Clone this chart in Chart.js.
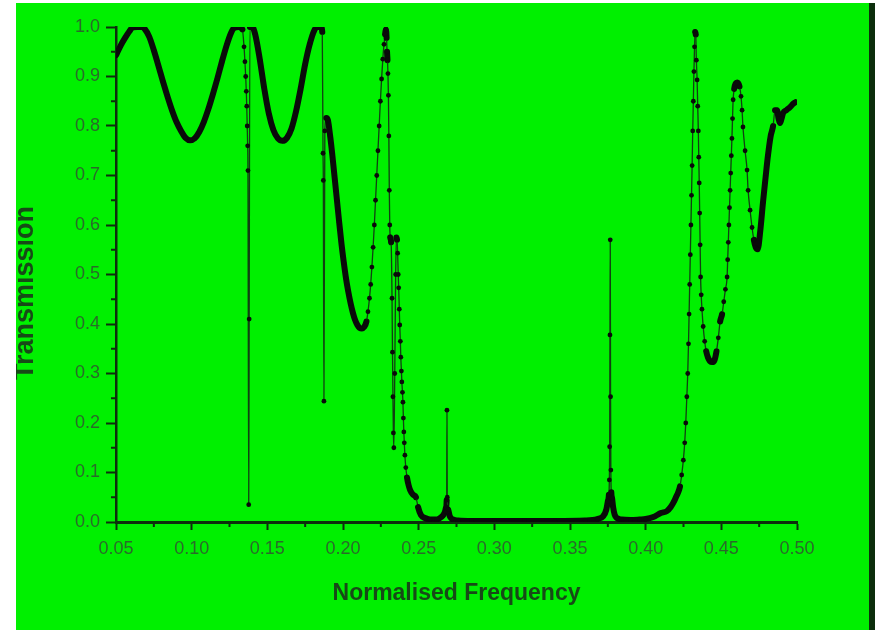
<!DOCTYPE html>
<html>
<head>
<meta charset="utf-8">
<script src="https://cdn.jsdelivr.net/npm/chart.js@4.4.1/dist/chart.umd.min.js"></script>
<style>
  html, body { margin: 0; padding: 0; background: #fff; }
  #wrap { position: absolute; left: 16px; top: 3px; width: 853px; height: 627px; background: #00f000; border-right: 6px solid #0c2e0c; }
  canvas { display: block; }
</style>
</head>
<body>
<div id="wrap"><canvas id="chart" width="853" height="627"></canvas></div>
<script>
const freq = [
  0.050, 0.053, 0.056, 0.059, 0.061, 0.064, 0.067, 0.069, 0.072, 0.075,
  0.078, 0.081, 0.084, 0.087, 0.090, 0.093, 0.096, 0.099, 0.102, 0.105,
  0.108, 0.111, 0.114, 0.117, 0.120, 0.123, 0.126, 0.128, 0.131, 0.1335,
  0.1346, 0.1352, 0.1357, 0.1361, 0.1364, 0.1367, 0.1370, 0.1372, 0.1377, 0.1380,
  0.1385, 0.1400, 0.1420, 0.1450, 0.1480, 0.1510, 0.1540, 0.1570, 0.1600, 0.1630,
  0.1660, 0.1690, 0.1720, 0.1750, 0.1780, 0.1810, 0.1830, 0.1855, 0.1863, 0.1868,
  0.1870, 0.1874, 0.1880, 0.1890, 0.1900, 0.1915, 0.1930, 0.1945, 0.1960, 0.1975,
  0.1990, 0.2005, 0.2020, 0.2035, 0.2050, 0.2065, 0.2080, 0.2095, 0.2110, 0.2125,
  0.2140, 0.2155, 0.2165, 0.2175, 0.2183, 0.2191, 0.2199, 0.2207, 0.2215, 0.2223,
  0.2231, 0.2239, 0.2247, 0.2255, 0.2263, 0.2271, 0.2278, 0.2284, 0.2288, 0.2291,
  0.2294, 0.2297, 0.2300, 0.2303, 0.2306, 0.2309, 0.2312, 0.2318, 0.2324, 0.2327,
  0.2330, 0.2333, 0.2336, 0.2342, 0.2348, 0.2353, 0.2357, 0.2361, 0.2365, 0.2368,
  0.2372, 0.2375, 0.2379, 0.2382, 0.2386, 0.2389, 0.2393, 0.2396, 0.2399, 0.2402,
  0.2405, 0.2409, 0.2415, 0.2423, 0.2433, 0.2443, 0.2463, 0.2482, 0.2496, 0.2515,
  0.2542, 0.2575, 0.2620, 0.2650, 0.2665, 0.2675, 0.2681, 0.2685, 0.2687, 0.2689,
  0.2695, 0.2705, 0.2720, 0.2760, 0.2850, 0.3000, 0.3200, 0.3400, 0.3600, 0.3680,
  0.3720, 0.3740, 0.3750, 0.3757, 0.3760, 0.3762, 0.3764, 0.3766, 0.3768, 0.3770,
  0.3773, 0.3778, 0.3785, 0.3795, 0.3810, 0.3840, 0.3900, 0.3960, 0.4000, 0.4050,
  0.4100, 0.4140, 0.4165, 0.4185, 0.4200, 0.4215, 0.4227, 0.4238, 0.4249, 0.4258,
  0.4265, 0.4272, 0.4278, 0.4283, 0.4287, 0.4291, 0.4295, 0.4299, 0.4303, 0.4307,
  0.4311, 0.4315, 0.4319, 0.4323, 0.4327, 0.4331, 0.4335, 0.4340, 0.4344, 0.4348,
  0.4351, 0.4354, 0.4357, 0.4360, 0.4363, 0.4367, 0.4372, 0.4380, 0.4390, 0.4400,
  0.4412, 0.4425, 0.4440, 0.4455, 0.4468, 0.4480, 0.4492, 0.4505, 0.4516, 0.4527,
  0.4538, 0.4542, 0.4546, 0.4550, 0.4554, 0.4558, 0.4562, 0.4566, 0.4570, 0.4574,
  0.4578, 0.4585, 0.4595, 0.4605, 0.4620, 0.4630, 0.4637, 0.4643, 0.4657, 0.4670,
  0.4677, 0.4690, 0.4703, 0.4715, 0.4727, 0.4740, 0.4758, 0.4775, 0.4792, 0.4808,
  0.4825, 0.4842, 0.4855, 0.4868, 0.4878, 0.4888, 0.4898, 0.4908, 0.4930, 0.4954,
  0.4975, 0.4990
];
const transmission = [
  0.943, 0.962, 0.978, 0.992, 0.999, 1.000, 1.000, 0.996, 0.980, 0.953,
  0.922, 0.890, 0.860, 0.832, 0.808, 0.790, 0.776, 0.771, 0.775, 0.788,
  0.808, 0.834, 0.864, 0.896, 0.930, 0.962, 0.988, 0.998, 1.000, 0.995,
  0.960, 0.930, 0.900, 0.870, 0.840, 0.800, 0.760, 0.710, 0.035, 0.410,
  1.000, 1.000, 0.985, 0.935, 0.875, 0.825, 0.792, 0.775, 0.770, 0.776,
  0.795, 0.830, 0.875, 0.925, 0.965, 0.993, 1.000, 1.000, 0.990, 0.745,
  0.690, 0.244, 0.790, 0.816, 0.812, 0.780, 0.740, 0.695, 0.650, 0.605,
  0.562, 0.525, 0.492, 0.465, 0.442, 0.423, 0.408, 0.398, 0.392, 0.391,
  0.394, 0.405, 0.425, 0.452, 0.480, 0.515, 0.555, 0.600, 0.650, 0.700,
  0.750, 0.800, 0.850, 0.895, 0.935, 0.965, 0.985, 0.995, 0.978, 0.950,
  0.933, 0.906, 0.862, 0.780, 0.670, 0.600, 0.575, 0.565, 0.452, 0.343,
  0.253, 0.180, 0.150, 0.300, 0.500, 0.575, 0.570, 0.543, 0.500, 0.473,
  0.430, 0.398, 0.365, 0.333, 0.305, 0.283, 0.262, 0.242, 0.210, 0.182,
  0.160, 0.135, 0.110, 0.090, 0.075, 0.065, 0.055, 0.050, 0.030, 0.014,
  0.008, 0.005, 0.005, 0.010, 0.015, 0.022, 0.030, 0.044, 0.226, 0.050,
  0.025, 0.012, 0.006, 0.003, 0.002, 0.002, 0.002, 0.002, 0.003, 0.006,
  0.012, 0.025, 0.042, 0.055, 0.085, 0.152, 0.378, 0.570, 0.253, 0.105,
  0.060, 0.048, 0.030, 0.015, 0.008, 0.005, 0.004, 0.005, 0.006, 0.010,
  0.018, 0.022, 0.030, 0.040, 0.050, 0.060, 0.072, 0.095, 0.125, 0.160,
  0.200, 0.253, 0.300, 0.360, 0.420, 0.480, 0.540, 0.600, 0.660, 0.720,
  0.790, 0.850, 0.910, 0.960, 0.990, 0.985, 0.933, 0.893, 0.840, 0.790,
  0.737, 0.685, 0.624, 0.560, 0.495, 0.459, 0.430, 0.395, 0.365, 0.345,
  0.332, 0.325, 0.323, 0.327, 0.345, 0.372, 0.405, 0.420, 0.445, 0.470,
  0.495, 0.530, 0.565, 0.600, 0.635, 0.670, 0.705, 0.740, 0.775, 0.815,
  0.853, 0.875, 0.886, 0.888, 0.880, 0.860, 0.832, 0.798, 0.750, 0.711,
  0.670, 0.630, 0.595, 0.570, 0.555, 0.551, 0.590, 0.645, 0.695, 0.740,
  0.778, 0.800, 0.832, 0.832, 0.815, 0.806, 0.815, 0.826, 0.832, 0.838,
  0.845, 0.848
];

const xTicks = [0.05, 0.10, 0.15, 0.20, 0.25, 0.30, 0.35, 0.40, 0.45, 0.50];
const xMinorTicks = [0.075, 0.125, 0.175, 0.225, 0.275, 0.325, 0.375, 0.425, 0.475];
const yTicks = [0.0, 0.1, 0.2, 0.3, 0.4, 0.5, 0.6, 0.7, 0.8, 0.9, 1.0];
const yMinorTicks = [0.05, 0.15, 0.25, 0.35, 0.45, 0.55, 0.65, 0.75, 0.85, 0.95];

const axisColor = '#0d2f0d'
const tickLabelColor = '#2a6a2a'
const titleColor = '#174a17'

// where samples jump apart they show as dots on a thin line, elsewhere they merge into a thick stroke
const isSteep = ctx => {
    const dx = Math.abs(ctx.p1.x - ctx.p0.x)
    const dy = Math.abs(ctx.p1.y - ctx.p0.y)
    return dy > 9 && (dx < 2.2 || dy > 15 * dx)
}

const extras = {
    id: 'extras',
    afterDraw(chart) {
        const { ctx, chartArea, scales: { x, y } } = chart
        ctx.save()
        ctx.strokeStyle = axisColor
        ctx.lineWidth = 2
        ctx.beginPath()
        xMinorTicks.forEach(v => {
            const px = x.getPixelForValue(v)
            ctx.moveTo(px, chartArea.bottom)
            ctx.lineTo(px, chartArea.bottom + 5)
        })
        yMinorTicks.forEach(v => {
            const py = y.getPixelForValue(v)
            ctx.moveTo(chartArea.left, py)
            ctx.lineTo(chartArea.left - 5, py)
        })
        ctx.stroke()

        // y axis title
        ctx.translate(10, 290)
        ctx.rotate(-Math.PI / 2)
        ctx.font = 'bold 27px "Liberation Sans", Arial, sans-serif'
        ctx.fillStyle = titleColor
        ctx.textAlign = 'center'
        ctx.textBaseline = 'middle'
        ctx.fillText('Transmission', 0, 0)
        ctx.restore()
    }
}

Chart.defaults.font.family = '"Liberation Sans", Arial, sans-serif'

new Chart(document.getElementById('chart'), {
    type: 'scatter',
    data: {
        datasets: [{
            label: 'Transmission',
            data: freq.map((f, i) => ({ x: f, y: transmission[i] })),
            showLine: true,
            cubicInterpolationMode: 'monotone',
            borderColor: '#0a0a0a',
            borderWidth: 6,
            borderJoinStyle: 'round',
            borderCapStyle: 'round',
            pointRadius: 2.4,
            pointBackgroundColor: '#0a0a0a',
            pointBorderWidth: 0,
            segment: {
                borderWidth: ctx => isSteep(ctx) ? 1.3 : 6,
                borderColor: ctx => isSteep(ctx) ? '#123f12' : '#0a0a0a'
            }
        }]
    },
    options: {
        responsive: false,
        animation: false,
        layout: { padding: { left: 0, right: 72, top: 24, bottom: 0 } },
        plugins: {
            legend: { display: false },
            tooltip: { enabled: false }
        },
        scales: {
            x: {
                type: 'linear',
                min: 0.05,
                max: 0.5,
                afterBuildTicks: scale => { scale.ticks = xTicks.map(v => ({ value: v })) },
                afterFit: scale => { scale.height = 108 },
                ticks: {
                    color: tickLabelColor,
                    font: { size: 18 },
                    padding: 8,
                    callback: v => v.toFixed(2)
                },
                grid: {
                    drawOnChartArea: false,
                    drawTicks: true,
                    tickLength: 8,
                    tickWidth: 2,
                    tickColor: axisColor
                },
                border: { display: true, color: axisColor, width: 3 },
                title: {
                    display: true,
                    text: 'Normalised Frequency',
                    color: titleColor,
                    font: { size: 23, weight: 'bold' },
                    padding: { top: 0, bottom: 23 }
                }
            },
            y: {
                type: 'linear',
                min: 0,
                max: 1,
                afterBuildTicks: scale => { scale.ticks = yTicks.map(v => ({ value: v })) },
                afterFit: scale => { scale.width = 100 },
                ticks: {
                    color: tickLabelColor,
                    font: { size: 18 },
                    padding: 6,
                    callback: v => v.toFixed(1)
                },
                grid: {
                    drawOnChartArea: false,
                    drawTicks: true,
                    tickLength: 10,
                    tickWidth: 2,
                    tickColor: axisColor
                },
                border: { display: true, color: axisColor, width: 2.5 }
            }
        }
    },
    plugins: [extras]
})
</script>
</body>
</html>
